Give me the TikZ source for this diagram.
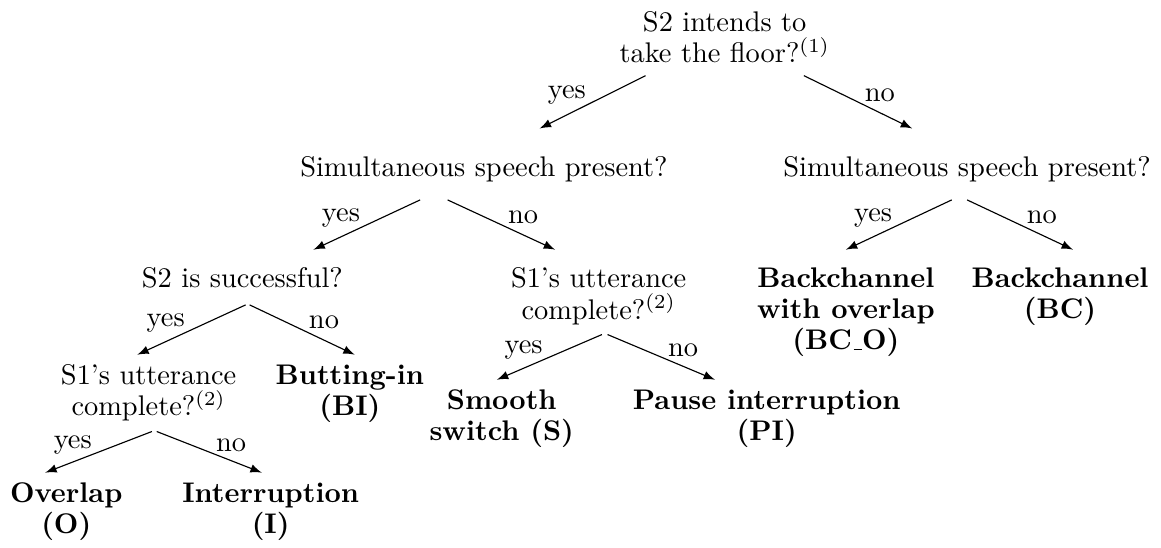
\documentclass[tikz,border=0pt]{standalone}
\usetikzlibrary{arrows, positioning}
\newcommand{\uscore}{\kern.06em\vbox{\hrule width .3em}}
\tikzset{
	question/.style={align=center, anchor=north, font=\fontsize{10}{11}\selectfont},
	outcome/.style={question, font=\fontsize{10}{11}\selectfont\bfseries},
	branch/.style={-latex},
	yeslbl/.style={left, inner sep=2.2pt, yshift=2.5pt},
	nolbl/.style={right, inner sep=2.2pt, yshift=2.5pt}
}
\begin{document}
\begin{tikzpicture}
	\useasboundingbox (0,0) rectangle (14.37,-6.78);
	% questions
	\node[question] (root) at (8.97,-0.02) {S2 intends to\\ take the floor?$^{(1)}$};
	\node[question] (simL) at (5.99,-1.81) {Simultaneous speech present?};
	\node[question] (simR) at (11.97,-1.81) {Simultaneous speech present?};
	\node[question] (succ) at (3.00,-3.19) {S2 is successful?};
	\node[question] (complM) at (7.41,-3.19) {S1's utterance\\ complete?$^{(2)}$};
	\node[question] (complL) at (1.84,-4.39) {S1's utterance\\ complete?$^{(2)}$};
	% outcomes
	\node[outcome] (bco) at (10.47,-3.19) {Backchannel\\ with overlap\\ (BC\uscore O)};
	\node[outcome] (bc) at (13.12,-3.19) {Backchannel\\ (BC)};
	\node[outcome] (bi) at (4.33,-4.39) {Butting-in\\ (BI)};
	\node[outcome] (smooth) at (6.21,-4.70) {Smooth\\ switch (S)};
	\node[outcome] (pi) at (9.49,-4.70) {Pause interruption\\ (PI)};
	\node[outcome] (overlap) at (0.82,-5.85) {Overlap\\ (O)};
	\node[outcome] (interr) at (3.35,-5.85) {Interruption\\ (I)};

	% branches
	\draw[branch] ([shift={(-0.98,-0.03)}]root.south) -- node[yeslbl] {yes} ([shift={(0.69,0.22)}]simL.north);
	\draw[branch] ([shift={(0.98,-0.03)}]root.south) -- node[nolbl] {no} ([shift={(-0.68,0.22)}]simR.north);
	\draw[branch] ([shift={(-0.79,-0.10)}]simL.south) -- node[yeslbl] {yes} ([shift={(0.88,0.10)}]succ.north);
	\draw[branch] ([shift={(-0.45,-0.10)}]simL.south) -- node[nolbl] {no} ([shift={(-0.54,0.10)}]complM.north);
	\draw[branch] ([shift={(-0.19,-0.10)}]simR.south) -- node[yeslbl] {yes} ([shift={(0,0.10)}]bco.north);
	\draw[branch] ([shift={(0,-0.10)}]simR.south) -- node[nolbl] {no} ([shift={(0.16,0.10)}]bc.north);
	\draw[branch] ([shift={(0.04,-0.08)}]succ.south) -- node[yeslbl] {yes} ([xshift=-0.14cm]complL.north);
	\draw[branch] ([shift={(0.09,-0.08)}]succ.south) -- node[nolbl] {no} ([xshift=0.06cm]bi.north);
	\draw[branch] ([xshift=0.04cm]complM.south) -- node[yeslbl] {yes} ([xshift=-0.06cm]smooth.north);
	\draw[branch] ([xshift=0.11cm]complM.south) -- node[nolbl] {no} ([xshift=-0.64cm]pi.north);
	\draw[branch] ([xshift=0.04cm]complL.south) -- node[yeslbl] {yes} ([xshift=-0.26cm]overlap.north);
	\draw[branch] ([xshift=0.10cm]complL.south) -- node[nolbl] {no} ([xshift=-0.11cm]interr.north);
\end{tikzpicture}
\end{document}
